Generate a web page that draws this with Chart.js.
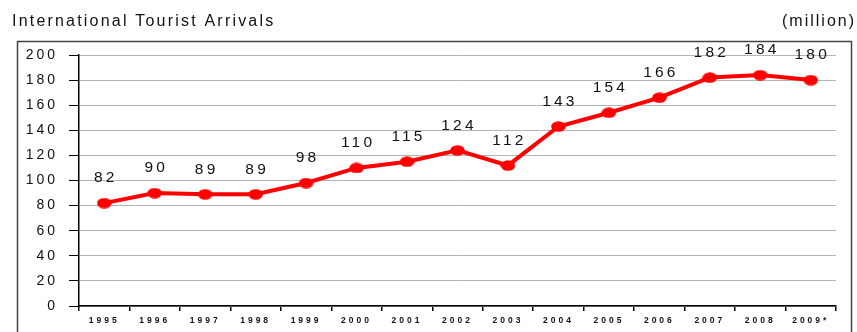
<!DOCTYPE html>
<html>
<head>
<meta charset="utf-8">
<script src="https://cdn.jsdelivr.net/npm/chart.js@4.4.1/dist/chart.umd.min.js"></script>
<style>
  body { margin: 0; background: #fff; }
  canvas { display: block; }
</style>
</head>
<body>
<canvas id="arrivalsChart" width="857" height="332"></canvas>
<script>
const years = ["1995", "1996", "1997", "1998", "1999", "2000", "2001", "2002",
               "2003", "2004", "2005", "2006", "2007", "2008", "2009*"];
const arrivals = [82, 90, 89, 89, 98, 110, 115, 124, 112, 143, 154, 166, 182, 184, 180];
const yTicks = [0, 20, 40, 60, 80, 100, 120, 140, 160, 180, 200];

const chartTitle = "International Tourist Arrivals";
const unitLabel = "(million)";

// markers are a bit wider than tall
const dot = document.createElement("canvas");
dot.width = 15;
dot.height = 11;
const dctx = dot.getContext("2d");
dctx.fillStyle = "#ff0000";
dctx.beginPath();
dctx.ellipse(7.5, 5.5, 7.3, 5.2, 0, 0, Math.PI * 2);
dctx.fill();

// frame, heading, unit and the value labels
const decorations = {
  id: "decorations",
  beforeDraw(chart) {
    const ctx = chart.ctx;
    ctx.letterSpacing = "3px";
    ctx.save();
    ctx.strokeStyle = "#444";
    ctx.lineWidth = 1.5;
    ctx.strokeRect(17.5, 41.5, 834, 320);
    ctx.fillStyle = "#111";
    ctx.font = "16px 'Liberation Sans'";
    ctx.textBaseline = "alphabetic";
    ctx.letterSpacing = "2.2px";
    ctx.textAlign = "left";
    ctx.fillText(chartTitle, 12, 26);
    ctx.letterSpacing = "2px";
    ctx.textAlign = "right";
    ctx.fillText(unitLabel, 856, 26);
    ctx.restore();
  },
  afterDatasetsDraw(chart) {
    const ctx = chart.ctx;
    const meta = chart.getDatasetMeta(0);
    ctx.save();
    ctx.font = "15.5px 'Liberation Sans'";
    ctx.letterSpacing = "3.2px";
    ctx.fillStyle = "#111";
    ctx.textAlign = "center";
    ctx.textBaseline = "middle";
    meta.data.forEach((pt, i) => {
      ctx.fillText(String(arrivals[i]), pt.x + 1.5, pt.y - 25);
    });
    ctx.restore();
  }
};

new Chart(document.getElementById("arrivalsChart"), {
  type: "line",
  data: {
    labels: years,
    datasets: [{
      data: arrivals,
      borderColor: "#ff0000",
      borderWidth: 4,
      pointStyle: dot,
      pointRadius: 6,
      tension: 0
    }]
  },
  options: {
    responsive: false,
    animation: false,
    layout: { padding: { top: 55, right: 21, left: 0, bottom: 0 } },
    plugins: {
      legend: { display: false },
      tooltip: { enabled: false }
    },
    scales: {
      x: {
        offset: true,
        afterFit: s => { s.height = 26; },
        grid: {
          offset: true,
          drawOnChartArea: false,
          tickLength: 5,
          tickColor: "#000",
          lineWidth: 1.5
        },
        border: { color: "#000", width: 1.5 },
        ticks: {
          color: "#111",
          font: { family: "Liberation Sans", size: 8.5, weight: "bold" },
          padding: 5,
          maxRotation: 0,
          autoSkip: false
        }
      },
      y: {
        min: 0,
        max: 200,
        afterFit: s => { s.width = 79; },
        afterBuildTicks: s => { s.ticks = yTicks.map(v => ({ value: v })); },
        grid: {
          color: "#b4b4b4",
          lineWidth: 1,
          tickLength: 10,
          tickColor: "#000"
        },
        border: { color: "#000", width: 1.5 },
        ticks: {
          color: "#111",
          font: { family: "Liberation Sans", size: 14 },
          padding: 11
        }
      }
    }
  },
  plugins: [decorations]
});
</script>
</body>
</html>
